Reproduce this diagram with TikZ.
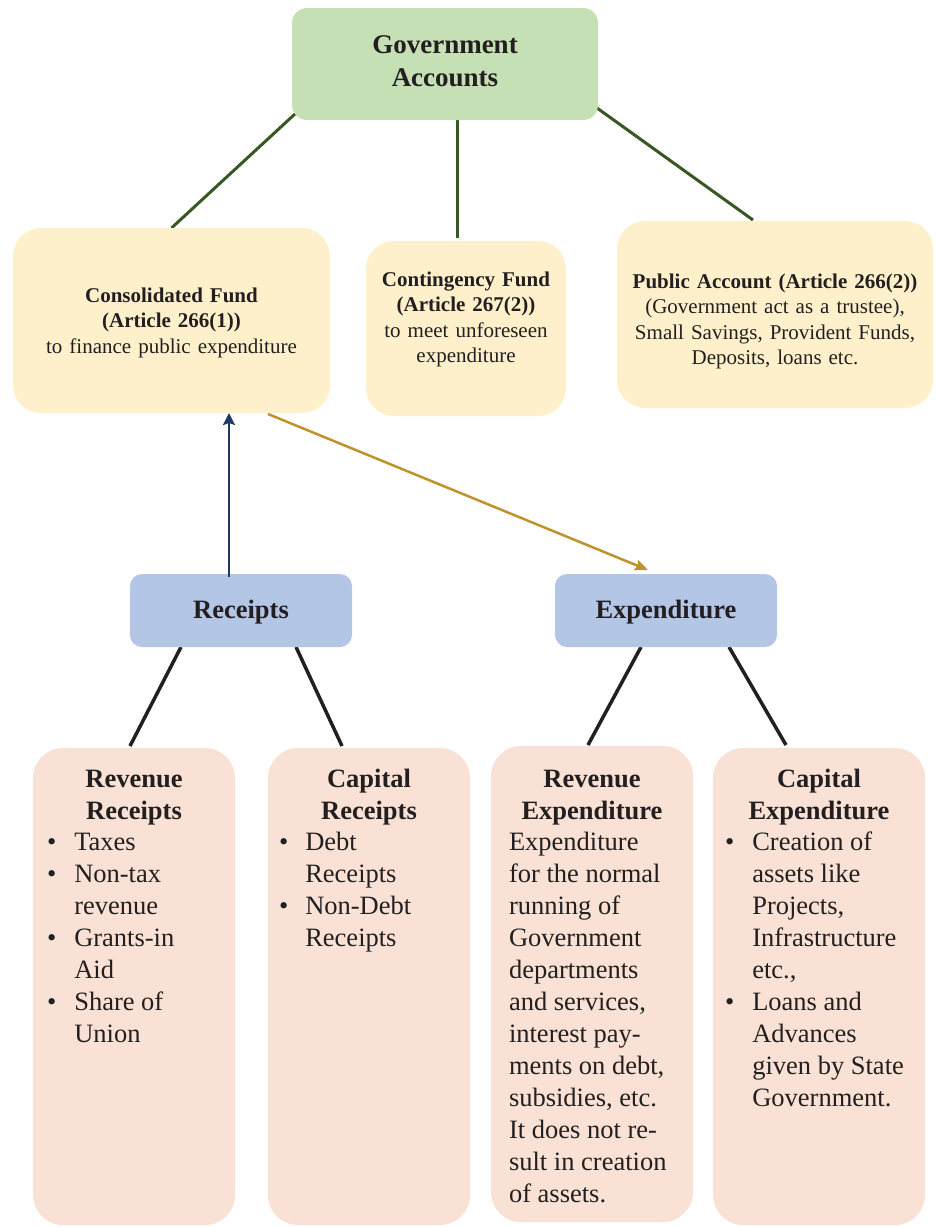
\documentclass[tikz,border=0pt]{standalone}
\usepackage{fontspec}
\setmainfont{Liberation Serif}
\usetikzlibrary{calc,arrows.meta,backgrounds}
\definecolor{gafill}{HTML}{C5E0B4}
\definecolor{fundfill}{HTML}{FDF0CB}
\definecolor{flowfill}{HTML}{B4C6E6}
\definecolor{itemfill}{HTML}{F9E2D5}
\definecolor{greenline}{HTML}{385723}
\definecolor{navyline}{HTML}{1F3864}
\definecolor{goldline}{HTML}{C0922B}
\definecolor{ink}{HTML}{231F20}
\newcommand\gafont{\fontsize{27}{33.5}\selectfont\bfseries}
\newcommand\fundfont{\fontsize{21}{25.5}\selectfont}
\newcommand\flowfont{\fontsize{26.5}{32}\selectfont\bfseries}
\newcommand\itemfont{\fontsize{26.5}{32}\selectfont}
\newcommand\bul{\textbullet}
\begin{document}
\begin{tikzpicture}[x=1pt,y=-1pt,
  boxbase/.style={draw=none,inner sep=0,outer sep=0},
  gabox/.style={boxbase,fill=gafill,rounded corners=15pt},
  fundbox/.style={boxbase,fill=fundfill,rounded corners=28pt},
  flowbox/.style={boxbase,fill=flowfill,rounded corners=12pt},
  itembox/.style={boxbase,fill=itemfill,rounded corners=30pt},
  label/.style={inner sep=0,outer sep=0,anchor=base,align=center,text=ink},
  listtext/.style={inner sep=0,outer sep=0,anchor=base west,text=ink,font=\itemfont},
  greenlink/.style={draw=greenline,line width=3pt},
  blacklink/.style={draw=ink,line width=3.5pt},
  navyarrow/.style={draw=navyline,line width=2.5pt,-{Stealth[length=12pt,width=12pt,inset=2pt]}},
  goldarrow/.style={draw=goldline,line width=2.5pt,-{Stealth[length=13pt,width=11pt,inset=2pt]}}
]
\useasboundingbox (0,0) rectangle (935,1227);

% boxes
\node[gabox,minimum width=306pt,minimum height=112pt] (gov) at (445,64) {};
\node[fundbox,minimum width=317pt,minimum height=185pt] (cons) at (171.5,320.5) {};
\node[fundbox,minimum width=200pt,minimum height=175pt] (cont) at (466,328.5) {};
\node[fundbox,minimum width=316pt,minimum height=187pt] (pub) at (775,314.5) {};
\node[flowbox,minimum width=222pt,minimum height=73pt] (rec) at (241,610.5) {};
\node[flowbox,minimum width=222pt,minimum height=73pt] (exp) at (666,610.5) {};
\node[itembox,minimum width=202pt,minimum height=477pt] (rr) at (134,986.5) {};
\node[itembox,minimum width=202pt,minimum height=477pt] (cr) at (369,986.5) {};
\node[itembox,minimum width=202pt,minimum height=476pt] (re) at (592,984) {};
\node[itembox,minimum width=212pt,minimum height=477pt] (ce) at (819,986.5) {};

% connectors
\begin{scope}[on background layer]
\draw[greenlink] ($(gov.south west)+(4,-7)$) -- (cons.north);
\draw[greenlink] ($(gov.south)+(12,0)$) -- ($(cont.north)+(-9,-3)$);
\draw[greenlink] ($(gov.south east)+(-1,-12)$) -- ($(pub.north)+(-22,-1)$);
\draw[blacklink] ($(rec.south)+(-60,0)$) -- ($(rr.north)+(-4,-2)$);
\draw[blacklink] ($(rec.south)+(55,0)$) -- ($(cr.north)+(-27,-2)$);
\draw[blacklink] ($(exp.south)+(-25,0)$) -- ($(re.north)+(-4,-1)$);
\draw[blacklink] ($(exp.south)+(63,0)$) -- ($(ce.north)+(-33,-3)$);
\end{scope}
\draw[navyarrow] ($(rec.north)+(-12,3)$) -- ($(cons.south)+(57.5,0)$);
\draw[goldarrow] ($(cons.south east)+(-62,1)$) -- ($(exp.north)+(-18,-4)$);

% texts
\node[label,text width=290pt,font=\gafont] (govt) at (445,53) {Government\\Accounts};
\node[label,text width=310pt,font=\fundfont] (const) at (171.5,302)
  {\textbf{Consolidated Fund}\\\textbf{(Article 266(1))}\\to finance public expenditure};
\node[label,text width=196pt,font=\fundfont] (contt) at (466,286)
  {\textbf{Contingency Fund}\\\textbf{(Article 267(2))}\\to meet unforeseen\\expenditure};
\node[label,text width=314pt,font=\fundfont] (pubt) at (775,288)
  {\textbf{Public Account (Article 266(2))}\\(Government act as a trustee),\\Small Savings, Provident Funds,\\Deposits, loans etc.};
\node[label,text width=210pt,font=\flowfont] (rect) at (241,618) {Receipts};
\node[label,text width=210pt,font=\flowfont] (expt) at (666,618) {Expenditure};

\node[label,text width=196pt,font=\flowfont] (rrt) at (134,787) {Revenue\\Receipts};
\node[label,text width=196pt,font=\flowfont] (crt) at (369,787) {Capital\\Receipts};
\node[label,text width=196pt,font=\flowfont] (ret) at (592,787) {Revenue\\Expenditure};
\node[label,text width=206pt,font=\flowfont] (cet) at (819,787) {Capital\\Expenditure};

\node[listtext] (rrl) at (47,850) {\begin{tabular}[t]{@{}l@{\hspace{18pt}}l@{}}
\bul & Taxes\\ \bul & Non-tax\\ & revenue\\ \bul & Grants-in\\ & Aid\\ \bul & Share of\\ & Union
\end{tabular}};
\node[listtext] (crl) at (279,850) {\begin{tabular}[t]{@{}l@{\hspace{17pt}}l@{}}
\bul & Debt\\ & Receipts\\ \bul & Non-Debt\\ & Receipts
\end{tabular}};
\node[listtext] (rel) at (509,850) {\begin{tabular}[t]{@{}l@{}}
Expenditure\\ for the normal\\ running of\\ Government\\ departments\\ and services,\\ interest pay-\\ ments on debt,\\ subsidies, etc.\\ It does not re-\\ sult in creation\\ of assets.
\end{tabular}};
\node[listtext] (cel) at (725,850) {\begin{tabular}[t]{@{}l@{\hspace{18pt}}l@{}}
\bul & Creation of\\ & assets like\\ & Projects,\\ & Infrastructure\\ & etc.,\\ \bul & Loans and\\ & Advances\\ & given by State\\ & Government.
\end{tabular}};
\end{tikzpicture}
\end{document}
